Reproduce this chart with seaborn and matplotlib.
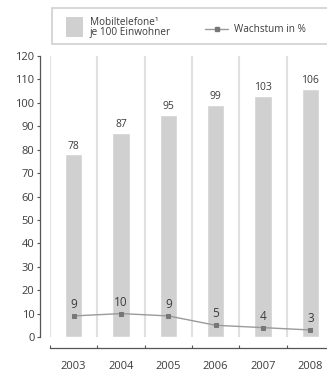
import matplotlib
matplotlib.use("Agg")
import matplotlib.pyplot as plt
from matplotlib.patches import Rectangle
from matplotlib.lines import Line2D
import seaborn as sns
import pandas as pd

# Data
years = ["2003", "2004", "2005", "2006", "2007", "2008"]
phones_per_100 = [78, 87, 95, 99, 103, 106]
growth_pct = [9, 10, 9, 5, 4, 3]

sns.set_theme(style="white")
plt.rcParams["font.family"] = ["Open Sans", "DejaVu Sans"]

TEXT = "#3c3c3c"
BAR = "#d0d0d0"
LINE = "#9a9a9a"
MARK = "#777777"
GRID = "#e0e0e0"
AXIS = "#555555"

W, H = 327, 373
fig = plt.figure(figsize=(W / 100, H / 100), dpi=100)
fig.patch.set_facecolor("white")

def fx(px):
    return px / W

def fy(py):
    return 1 - py / H

# axes: x from 50px to 334px (last column runs past the right edge), y 0 at 337px, 120 at 56px
ax = fig.add_axes([fx(50), fy(337), fx(334) - fx(50), (337 - 56) / H])

df = pd.DataFrame({"Jahr": years, "Mobiltelefone": phones_per_100, "Wachstum": growth_pct})

sns.barplot(data=df, x="Jahr", y="Mobiltelefone", color=BAR, width=0.36,
            saturation=1, ax=ax, zorder=2)
sns.pointplot(data=df, x="Jahr", y="Wachstum", color=LINE, markers="s",
              markersize=3.2, linewidth=1.0, errorbar=None, ax=ax)
# darker square markers on the growth line
for ln in ax.lines:
    ln.set_markerfacecolor(MARK)
    ln.set_markeredgecolor(MARK)
    ln.set_zorder(4)

# value labels
ax.bar_label(ax.containers[0], labels=[str(v) for v in phones_per_100],
             padding=2, fontsize=7.5, color=TEXT)
for i, g in enumerate(growth_pct):
    ax.annotate(str(g), (i, g), xytext=(0, 3.5), textcoords="offset points",
                ha="center", va="bottom", fontsize=8.5, color=TEXT)

n = len(years)
ax.set_xlim(-0.5, n - 0.5)
ax.set_ylim(0, 120)

# column separators as vertical grid lines
boundaries = [i - 0.5 for i in range(n + 1)]
ax.set_xticks(range(n))
ax.set_xticklabels(years)
ax.set_xticks(boundaries, minor=True)
ax.grid(False)
ax.grid(which="minor", axis="x", color=GRID, linewidth=1.5, zorder=0)
ax.set_axisbelow(True)

ax.set_yticks(range(0, 121, 10))
ax.set_xlabel("")
ax.set_ylabel("")

for s in ["top", "right"]:
    ax.spines[s].set_visible(False)
ax.spines["left"].set_position(("outward", 7.2))
ax.spines["left"].set_bounds(0, 120)
ax.spines["bottom"].set_position(("outward", 8.0))
ax.spines["bottom"].set_bounds(-0.5, n - 0.5)
for s in ["left", "bottom"]:
    ax.spines[s].set_color(AXIS)
    ax.spines[s].set_linewidth(0.9)

ax.tick_params(axis="y", which="major", direction="out", length=2.5, width=0.8,
               color=AXIS, labelsize=8, labelcolor=TEXT, pad=1.5, left=True)
ax.tick_params(axis="x", which="major", length=0, labelsize=8, labelcolor=TEXT, pad=9)
ax.tick_params(axis="x", which="minor", direction="in", length=2.5, width=0.8,
               color=AXIS, bottom=True)

# legend box across the top
fig.add_artist(Rectangle((fx(52), fy(44)), fx(340) - fx(52), (44 - 8) / H,
                         transform=fig.transFigure, facecolor="white",
                         edgecolor="#cfcfcf", linewidth=1.2))
fig.add_artist(Rectangle((fx(66), fy(37)), fx(83) - fx(66), (37 - 17) / H,
                         transform=fig.transFigure, facecolor=BAR, edgecolor="none"))
fig.text(fx(90), fy(27.5), "Mobiltelefone\u00b9\nje 100 Einwohner", fontsize=7.2,
         color=TEXT, ha="left", va="center", linespacing=0.95)
fig.add_artist(Line2D([fx(205), fx(228)], [fy(29), fy(29)], transform=fig.transFigure,
                      color=LINE, linewidth=1.0))
fig.add_artist(Line2D([fx(216.5)], [fy(29)], transform=fig.transFigure, marker="s",
                      markersize=2.6, color=MARK, linestyle="none"))
fig.text(fx(234), fy(29), "Wachstum in %", fontsize=7.2, color=TEXT,
         ha="left", va="center")

fig.savefig("out.png", dpi=100, facecolor="white")
